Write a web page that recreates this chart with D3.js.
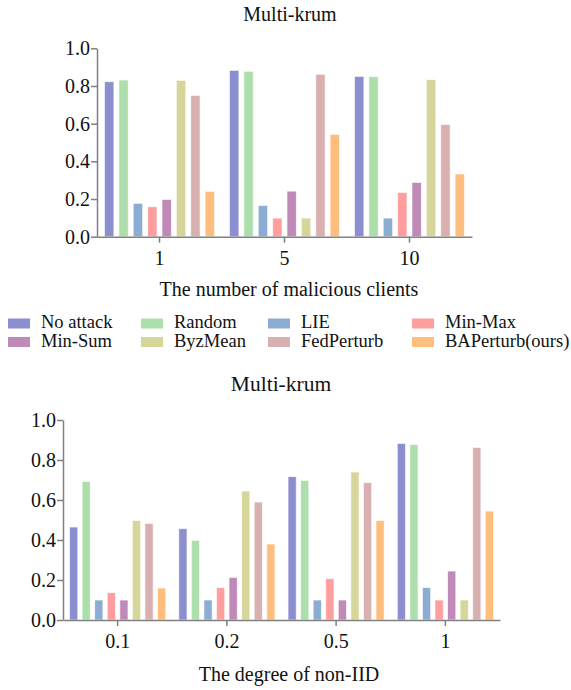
<!DOCTYPE html>
<html>
<head>
<meta charset="utf-8">
<script src="https://cdn.jsdelivr.net/npm/d3@7"></script>
<style>
  html, body { margin: 0; padding: 0; background: #fff; }
  svg { display: block; }
  text { font-family: "Liberation Serif", "Times New Roman", serif; }
  .axis path, .axis line { stroke: #808080; stroke-width: 1.5; }
  .axis text { fill: #111; }
</style>
</head>
<body>
<svg id="chart" width="571" height="690"></svg>
<script>
"use strict";

const FONT = "'Liberation Serif', 'Times New Roman', serif";

// ── Data ──────────────────────────────────────────────────────────────────────
const attacks = ["No attack", "Random", "LIE", "Min-Max", "Min-Sum", "ByzMean", "FedPerturb", "BAPerturb(ours)"];
const colors  = ["#8b8fcf", "#addfad", "#8badd4", "#ff9e9e", "#c08ab8", "#d6d69a", "#d8b0b0", "#ffbe7d"];

const clientCounts = ["1", "5", "10"];
const clientValues = [
  [0.823, 0.832, 0.177, 0.159, 0.198, 0.830, 0.750, 0.241],
  [0.883, 0.878, 0.166, 0.099, 0.242, 0.099, 0.862, 0.543],
  [0.851, 0.850, 0.099, 0.235, 0.288, 0.834, 0.596, 0.333]
];

const nonIidLevels = ["0.1", "0.2", "0.5", "1"];
const nonIidValues = [
  [0.465, 0.693, 0.100, 0.137, 0.100, 0.498, 0.483, 0.160],
  [0.457, 0.398, 0.100, 0.162, 0.213, 0.645, 0.590, 0.380],
  [0.717, 0.698, 0.100, 0.207, 0.100, 0.740, 0.687, 0.498],
  [0.883, 0.878, 0.163, 0.100, 0.245, 0.100, 0.863, 0.545]
];

const yTicks = [0, 0.2, 0.4, 0.6, 0.8, 1.0];

const svg = d3.select("#chart");

// ── Grouped bar panel ─────────────────────────────────────────────────────────
function drawPanel(opts) {
  const { groups, values, x0, x1, yTop, yBottom, title, titleY, titleX, titleSize, xLabel, xLabelY, xLabelX } = opts;
  const g = svg.append("g");

  const xOuter = d3.scaleBand()
    .domain(groups)
    .range([x0, x1])
    .paddingInner(0.05)
    .paddingOuter(0.025);

  const xInner = d3.scaleBand()
    .domain(attacks)
    .range([0, xOuter.bandwidth()])
    .paddingInner(0.34)
    .paddingOuter(0.3);

  const y = d3.scaleLinear().domain([0, 1]).range([yBottom, yTop]);

  // bars
  const grp = g.selectAll(".grp")
    .data(groups)
    .join("g")
    .attr("class", "grp")
    .attr("transform", d => `translate(${xOuter(d)},0)`);

  grp.selectAll("rect")
    .data((d, i) => values[i].map((v, j) => ({ key: attacks[j], v, c: colors[j] })))
    .join("rect")
    .attr("x", d => xInner(d.key))
    .attr("width", xInner.bandwidth())
    .attr("y", d => y(d.v))
    .attr("height", d => y(0) - y(d.v))
    .attr("fill", d => d.c)
    .attr("stroke", "#fff")
    .attr("stroke-opacity", 0.7)
    .attr("stroke-width", 1);

  // axes
  g.append("g")
    .attr("class", "axis")
    .attr("transform", `translate(0,${yBottom})`)
    .call(d3.axisBottom(xOuter).tickSize(6).tickSizeOuter(0).tickPadding(8))
    .attr("font-family", FONT)
    .attr("font-size", 20);

  g.append("g")
    .attr("class", "axis")
    .attr("transform", `translate(${x0},0)`)
    .call(d3.axisLeft(y).tickValues(yTicks).tickFormat(d3.format(".1f")).tickSize(6).tickSizeOuter(0).tickPadding(1))
    .attr("font-family", FONT)
    .attr("font-size", 20);

  // labels
  g.append("text")
    .attr("x", titleX).attr("y", titleY)
    .attr("text-anchor", "middle")
    .attr("font-size", titleSize)
    .attr("fill", "#111")
    .text(title);

  g.append("text")
    .attr("x", xLabelX).attr("y", xLabelY)
    .attr("text-anchor", "middle")
    .attr("font-size", 20)
    .attr("fill", "#111")
    .text(xLabel);
}

drawPanel({
  groups: clientCounts, values: clientValues,
  x0: 97, x1: 472, yTop: 48.3, yBottom: 236.7,
  title: "Multi-krum", titleX: 290, titleY: 21, titleSize: 20,
  xLabel: "The number of malicious clients", xLabelX: 289, xLabelY: 296
});

drawPanel({
  groups: nonIidLevels, values: nonIidValues,
  x0: 63, x1: 500, yTop: 420, yBottom: 620,
  title: "Multi-krum", titleX: 281, titleY: 391, titleSize: 21.5,
  xLabel: "The degree of non-IID", xLabelX: 289, xLabelY: 681
});

// ── Legend ────────────────────────────────────────────────────────────────────
const legendCols = [
  { sw: 8, tx: 41 },
  { sw: 141, tx: 174 },
  { sw: 268, tx: 301 },
  { sw: 412, tx: 445 }
];
const legendRows = [318.5, 337];

const leg = svg.append("g");
attacks.forEach((name, i) => {
  const col = legendCols[i % 4];
  const row = legendRows[Math.floor(i / 4)];
  leg.append("rect")
    .attr("x", col.sw).attr("y", row)
    .attr("width", 22).attr("height", 10)
    .attr("fill", colors[i]);
  leg.append("text")
    .attr("x", col.tx).attr("y", row + 9.5)
    .attr("font-size", 18.5)
    .attr("fill", "#111")
    .text(name);
});
</script>
</body>
</html>
